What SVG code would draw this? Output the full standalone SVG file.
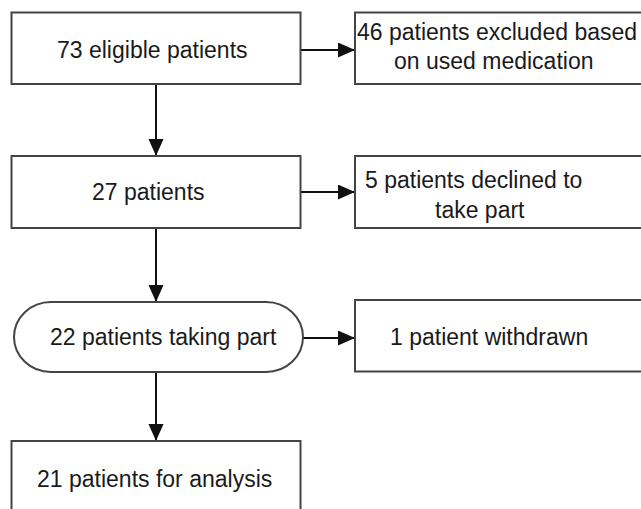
<svg xmlns="http://www.w3.org/2000/svg" width="641" height="509" viewBox="0 0 641 509">
<style>
.box{fill:#fff;stroke:#444;stroke-width:2}
.lbl{font-family:"Liberation Sans",Arial,sans-serif;font-size:23px;fill:#1a1a1a}
.conn{stroke:#111;stroke-width:2;fill:none}
</style>
<defs>
<marker id="ah" markerUnits="userSpaceOnUse" markerWidth="18" markerHeight="16" refX="17" refY="7.5" orient="auto">
<path d="M0,0 L17,7.5 L0,15 Z" fill="#111"/>
</marker>
</defs>
<rect width="641" height="509" fill="#fff"/>
<g id="connectors">
<line class="conn" x1="301" y1="50" x2="355" y2="50" marker-end="url(#ah)"/>
<line class="conn" x1="156" y1="84" x2="156" y2="156" marker-end="url(#ah)"/>
<line class="conn" x1="301" y1="192" x2="355" y2="192" marker-end="url(#ah)"/>
<line class="conn" x1="156" y1="228" x2="156" y2="302" marker-end="url(#ah)"/>
<line class="conn" x1="303" y1="338" x2="355" y2="338" marker-end="url(#ah)"/>
<line class="conn" x1="156" y1="372" x2="156" y2="441" marker-end="url(#ah)"/>
</g>
<g id="n1">
<rect class="box" x="11.5" y="12.5" width="289" height="71.5"/>
<text class="lbl" x="57" y="58">73 eligible patients</text>
</g>
<g id="n2">
<rect class="box" x="355" y="12.5" width="300" height="71.5"/>
<text class="lbl" x="357" y="40">46 patients excluded based</text>
<text class="lbl" x="394" y="69">on used medication</text>
</g>
<g id="n3">
<rect class="box" x="11.5" y="156" width="289" height="72"/>
<text class="lbl" x="92" y="200">27 patients</text>
</g>
<g id="n4">
<rect class="box" x="355" y="156" width="300" height="72"/>
<text class="lbl" x="365" y="188">5 patients declined to</text>
<text class="lbl" x="435" y="218">take part</text>
</g>
<g id="n5">
<path class="box" d="M51,302 H266 A37 35 0 0 1 266 372 H51 A37 35 0 0 1 51 302 Z"/>
<text class="lbl" x="50" y="345">22 patients taking part</text>
</g>
<g id="n6">
<rect class="box" x="355" y="300" width="300" height="71.5"/>
<text class="lbl" x="390" y="345">1 patient withdrawn</text>
</g>
<g id="n7">
<rect class="box" x="11.5" y="441" width="289" height="80"/>
<text class="lbl" x="37" y="487">21 patients for analysis</text>
</g>
</svg>
